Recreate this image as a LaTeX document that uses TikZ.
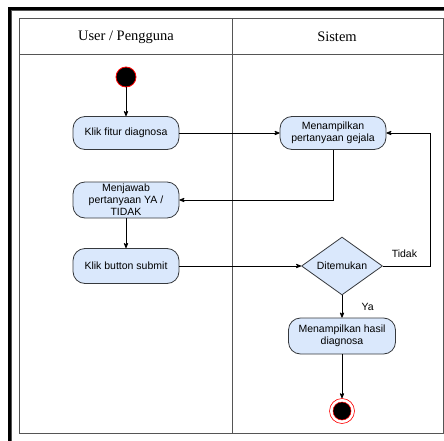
\documentclass[tikz,border=0pt]{standalone}
\usepackage{fontspec}
\setmainfont{Liberation Serif}
\newfontfamily\boxfont{Liberation Sans}
\usetikzlibrary{arrows,shapes.geometric}

\definecolor{actfill}{HTML}{DAE8FC}
\definecolor{actline}{HTML}{36393D}
\definecolor{laneline}{HTML}{555555}

\begin{document}
\begin{tikzpicture}[x=1pt,y=-1pt,->,>=stealth',line width=0.8pt]
  \tikzstyle{activity}=[rectangle,rounded corners=12pt,draw=actline,fill=actfill,
    minimum width=106pt,inner sep=0pt,align=center,font=\boxfont\fontsize{10.5}{12}\selectfont]
  \tikzstyle{decision}=[diamond,draw=actline,fill=actfill,minimum width=81pt,
    minimum height=43pt,inner sep=0pt,font=\boxfont\fontsize{10.5}{12}\selectfont]
  \tikzstyle{lanehead}=[font=\fontsize{14.5}{17}\selectfont]
  \tikzstyle{guard}=[font=\boxfont\fontsize{10.5}{12}\selectfont]

  \useasboundingbox (0,0) rectangle (444,441);
  \clip (0,0) rectangle (444,441);

  % frame and swimlanes
  \draw[-,line width=2.4pt] (9.5,460) |- (460,8.5);
  \draw[-,laneline] (11.8,460) |- (460,10.8);
  \draw[-,laneline] (19.5,18.5) rectangle (443,433);
  \draw[-,laneline] (19.5,54) -- (443,54);
  \draw[-,laneline] (232,18.5) -- (232,433);
  \node[lanehead] (user) at (126,37) {User / Pengguna};
  \node[lanehead] (sistem) at (337,37) {Sistem};

  % user lane
  \node[circle,fill=black,draw=red,minimum size=20pt,inner sep=0pt] (start) at (126,77) {};
  \node[activity,minimum height=33pt] (fitur) [below of=start,node distance=56pt] {Klik fitur diagnosa};
  \node[activity,minimum height=36pt] (jawab) [below of=fitur,node distance=67pt] {Menjawab\\pertanyaan YA /\\TIDAK};
  \node[activity,minimum height=35pt] (submit) [below of=jawab,node distance=66pt] {Klik button submit};

  % system lane
  \node[activity,minimum height=33pt] (tanya) [right of=fitur,node distance=207pt] {Menampilkan\\pertanyaan gejala};
  \node[decision] (temu) [right of=submit,node distance=216pt] {Ditemukan};
  \node[activity,minimum height=36pt,minimum width=107pt] (hasil) [below of=temu,node distance=70pt] {Menampilkan hasil\\diagnosa};
  \node[circle,draw=red,line width=0.6pt,fill=white,minimum size=25pt,inner sep=0pt] (end) [below of=hasil,node distance=75pt] {};
  \fill[draw=red,fill=black,line width=0.5pt] (end.center) circle (9);

  \path (start) edge (fitur)
        (fitur) edge (tanya)
        (jawab) edge (submit)
        (submit) edge (temu)
        (hasil) edge (end);
  \draw (tanya.south) |- (jawab.east);
  \draw (temu.east) -- node[guard,above=5pt,xshift=-2pt] {Tidak} ++(47,0) |- (tanya.east);
  \draw (temu.south) -- node[guard,right=16pt] {Ya} (hasil.north);
\end{tikzpicture}
\end{document}
